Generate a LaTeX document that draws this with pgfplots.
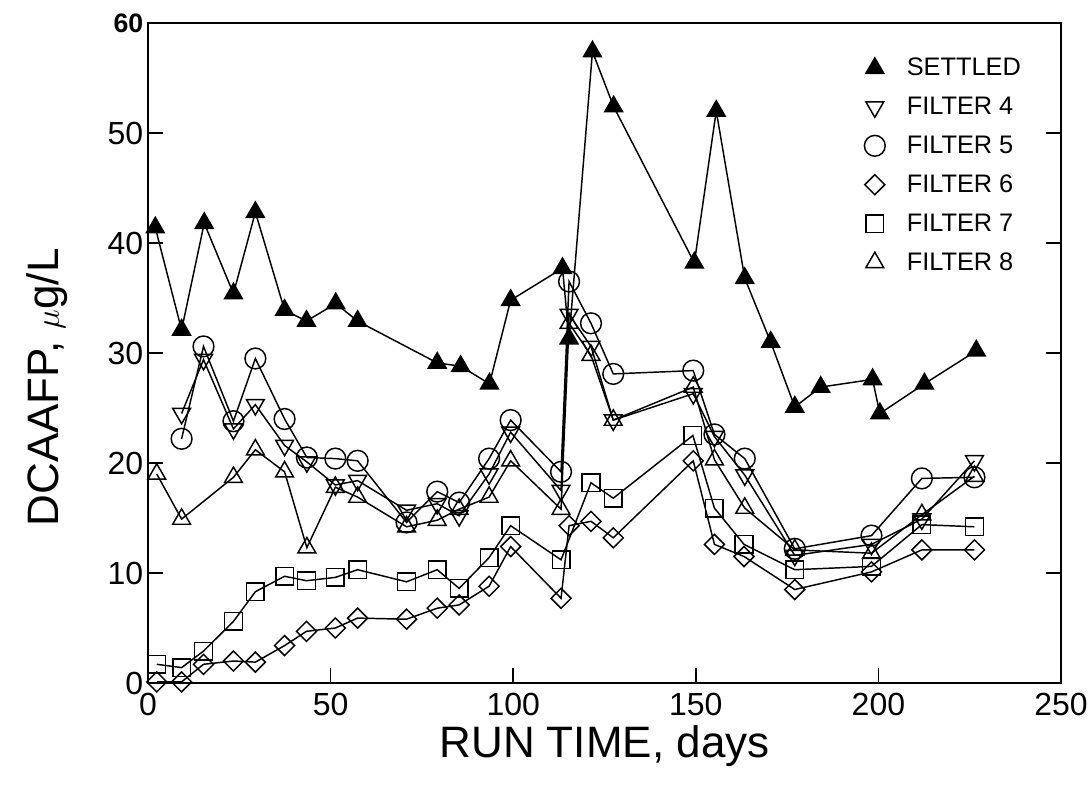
\documentclass[border=0pt]{standalone}
\usepackage{fontspec}
\setmainfont{Liberation Sans}
\usepackage{pgfplots}
\pgfplotsset{compat=1.18}
\begin{document}
\begin{tikzpicture}
\useasboundingbox (-111pt,-87.75pt) rectangle (707.25pt,512.25pt);
\begin{axis}[
  at={(0pt,0pt)}, anchor=south west,
  scale only axis, width=684.75pt, height=495pt,
  xmin=0, xmax=250, ymin=0, ymax=60,
  xtick={0,50,...,250}, ytick={0,10,...,60},
  yticklabels={0,10,20,30,40,50,{\bfseries\fontsize{20}{20}\selectfont 60}},
  xtick pos=bottom, ytick pos=both, yticklabel pos=left,
  tick align=inside, major tick length=11pt,
  axis line style={line width=1.2pt}, tick style={line width=1.2pt, black},
  /pgf/number format/assume math mode=true,
  ticklabel style={font=\fontsize{24}{24}\selectfont},
  xticklabel style={yshift=-4pt},
  xlabel={RUN TIME, days},
  ylabel={DCAAFP, $\mu$g/L},
  label style={font=\fontsize{33}{33}\selectfont},
  xlabel style={at={(axis description cs:0.5,-0.113)}, anchor=base},
  ylabel style={at={(axis description cs:-0.11,0.448)}, anchor=center},
  every axis plot/.append style={black, line width=1.1pt},
  mark options={solid, line width=1.1pt},
  legend image code/.code={\draw[#1,only marks] plot coordinates {(0.3cm,0cm)};
    \path[draw=none,fill=none] (0.3cm,0pt) rectangle ([xshift=22pt]0.3cm,1pt);},
  legend cell align=left,
  legend style={draw=none, fill=none, at={(rel axis cs:0.78,0.955)}, anchor=north west,
    font=\fontsize{19}{19}\selectfont, row sep=10.5pt},
]
% SETTLED
\addplot[mark=triangle*, mark size=7.7pt, mark options={fill=black}] coordinates {
(2,41.4)(9.2,32.1)(15.4,41.8)(23.4,35.4)(29.4,42.8)(37.4,33.9)(43.4,32.9)(51.4,34.5)
(57.4,32.9)(79.2,29.1)(85.6,28.8)(93.5,27.2)(99.3,34.8)(113.5,37.7)(115.3,31.3)
(121.7,57.4)(127.5,52.4)(149.6,38.2)(155.6,52.0)(163.4,36.8)(170.5,31.0)(177.1,25.1)
(184.2,26.9)(198.4,27.6)(200.4,24.5)(212.6,27.2)(226.8,30.2)};
\addlegendentry{SETTLED}
% FILTER 4
\addplot[mark=triangle, mark size=7.7pt, mark options={fill=white, rotate=180}] coordinates {
(9.2,24.5)(15.2,29.4)(23.4,23.1)(29.4,25.3)(37.4,21.6)(43.5,20.1)(51.3,18.0)(57.4,18.4)
(70.8,15.7)(79.2,16.3)(85.2,15.2)(93.4,19.0)(99.3,22.8)(113.1,17.5)(115.3,33.5)
(121.3,30.6)(127.4,23.9)(149.3,26.3)(155.1,22.4)(163.4,18.9)(177.1,11.6)(198.1,12.6)
(211.9,14.9)(226.3,20.2)};
\addlegendentry{FILTER 4}
% FILTER 5
\addplot[mark=o, mark size=7.8pt, mark options={fill=white}] coordinates {
(9.2,22.2)(15.2,30.6)(23.4,23.8)(29.4,29.5)(37.4,24.0)(43.5,20.5)(51.3,20.4)(57.4,20.2)
(70.8,14.6)(79.2,17.4)(85.2,16.4)(93.4,20.4)(99.3,23.9)(113.1,19.2)(115.3,36.5)
(121.3,32.7)(127.4,28.1)(149.3,28.4)(155.1,22.6)(163.4,20.4)(177.1,12.2)(198.1,13.4)
(211.9,18.6)(226.3,18.7)};
\addlegendentry{FILTER 5}
% FILTER 6
\addplot[mark=square, mark size=5.3pt, mark options={fill=white, rotate=45}] coordinates {
(2.4,0.1)(9.2,0.1)(15.2,1.7)(23.4,2.0)(29.4,1.9)(37.4,3.4)(43.4,4.7)(51.3,5.0)(57.4,5.9)
(70.8,5.8)(79.2,6.8)(85.2,7.1)(93.4,8.8)(99.3,12.4)(113.1,7.7)(115.3,14.3)(121.3,14.7)
(127.4,13.2)(149.3,20.2)(155.1,12.6)(163.2,11.5)(177.1,8.5)(198.1,10.1)(211.9,12.1)
(226.3,12.1)};
\addlegendentry{FILTER 6}
% FILTER 7
\addplot[mark=square, mark size=6.6pt, mark options={fill=white}] coordinates {
(2.4,1.7)(9.2,1.4)(15.2,2.9)(23.4,5.6)(29.4,8.3)(37.4,9.7)(43.4,9.3)(51.3,9.6)(57.4,10.3)
(70.8,9.2)(79.2,10.3)(85.2,8.6)(93.4,11.4)(99.3,14.3)(113.1,11.2)(121.3,18.2)(127.4,16.8)
(149.2,22.5)(155.1,15.9)(163.2,12.6)(177.1,10.3)(198.1,10.6)(211.9,14.4)(226.3,14.2)};
\addlegendentry{FILTER 7}
% FILTER 8
\addplot[mark=triangle, mark size=7.7pt, mark options={fill=white}] coordinates {
(2.4,19.0)(9.2,14.9)(23.4,18.7)(29.4,21.2)(37.4,19.2)(43.5,12.3)(51.3,17.8)(57.4,16.9)
(70.8,14.2)(79.2,14.8)(85.2,15.8)(93.4,16.9)(99.3,20.2)(113.1,15.8)(115.3,32.7)
(121.3,29.8)(127.4,23.9)(149.3,26.9)(155.1,20.3)(163.4,15.9)(177.1,12.1)(198.1,11.8)
(211.9,15.3)(226.3,18.8)};
\addlegendentry{FILTER 8}
\end{axis}
\end{tikzpicture}
\end{document}
